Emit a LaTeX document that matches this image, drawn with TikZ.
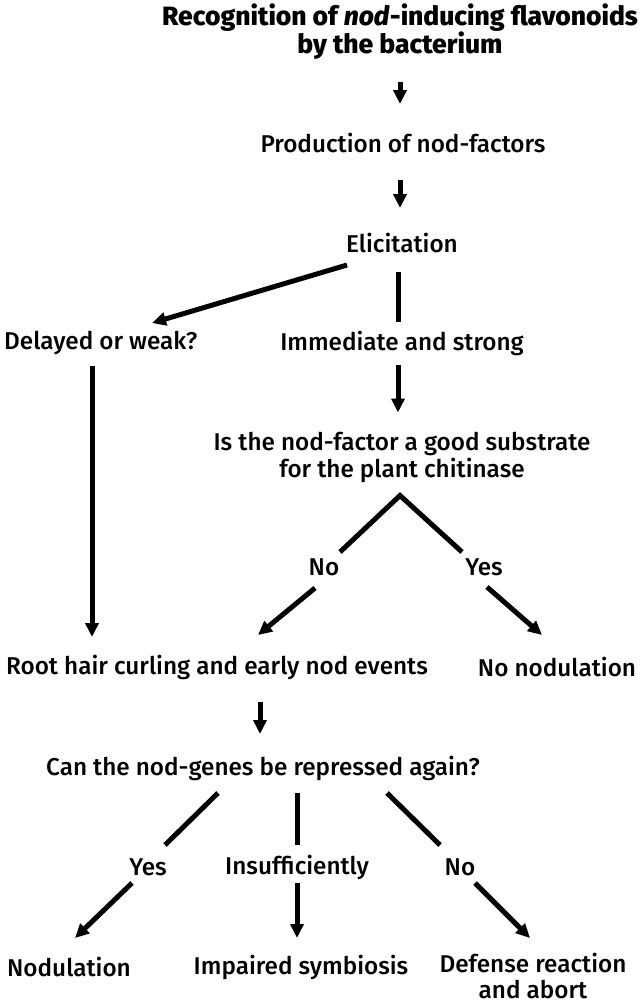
\documentclass[tikz,border=0pt]{standalone}
\usepackage{fontspec}
\setmainfont{Fira Sans}[UprightFont={* Medium}, ItalicFont={* Medium Italic}, BoldFont={* Bold}, BoldItalicFont={* Bold Italic}]
\newfontfamily\heavyfont{Fira Sans}[UprightFont={* ExtraBold}, ItalicFont={* ExtraBold Italic}]
\usetikzlibrary{arrows.meta,calc}
\begin{document}
\begin{tikzpicture}[x=1pt,y=-1pt,
  txt/.style={inner sep=0pt, align=center, font=\fontsize{24.3}{27}\selectfont},
  ln/.style={line width=5pt},
  arr/.style={line width=5pt, -{Triangle[length=14pt,width=13pt]}}]
\useasboundingbox (0,0) rectangle (642,1004);
\node[txt, font=\heavyfont\fontsize{26.5}{27}\selectfont] (title) at (400,31.5) {Recognition of \textit{nod}-inducing flavonoids\\by the bacterium};
\node[txt] (prod) at (403,143) {Production of nod-factors};
\node[txt] (elic) at (402,243) {Elicitation};
\node[txt, anchor=west] (delayed) at (4,343) {Delayed or weak?};
\node[txt] (immediate) at (402,343) {Immediate and strong};
\node[txt] (question) at (402,457.5) {Is the nod-factor a good substrate\\for the plant chitinase};
\node[txt] (no) at (324,567) {No};
\node[txt] (yes) at (484,567) {Yes};
\node[txt] (root) at (217,667) {Root hair curling and early nod events};
\node[txt] (nonod) at (557,667) {No nodulation};
\node[txt] (can) at (263,768) {Can the nod-genes be repressed again?};
\node[txt] (yes2) at (148,867) {Yes};
\node[txt] (insuff) at (297,867) {Insufficiently};
\node[txt] (no2) at (460,867) {No};
\node[txt] (nodulation) at (69,967) {Nodulation};
\node[txt] (impaired) at (301,967) {Impaired symbiosis};
\node[txt, font=\fontsize{24.3}{26}\selectfont] (defense) at (533,976) {Defense reaction\\and abort};

\draw[arr] ($(title)+(0,50)$) -- ($(prod)+(-3,-39)$);
\draw[arr] ($(prod)+(-3,37)$) -- ($(elic)+(-2,-35)$);
\draw[ln] ($(elic)+(-4,29)$) -- ($(immediate)+(-4,-21)$);
\draw[arr] ($(elic)+(-55,22)$) -- ($(delayed.west)+(148,-20)$);
\draw[arr] ($(immediate)+(-4,22)$) -- ($(question)+(-4,-45)$);
\draw[ln, line join=miter] ($(no)+(16,-15)$) -- ($(question)+(-2,38)$) -- ($(yes)+(-22,-15)$);
\draw[arr] ($(no)+(-9,21)$) -- ($(root)+(41,-32)$);
\draw[arr] ($(yes)+(3,20)$) -- ($(nonod)+(-15,-32)$);
\draw[arr] ($(delayed.west)+(88,23)$) -- ($(root)+(-125,-30)$);
\draw[arr] ($(root)+(43,35)$) -- ($(can)+(-3,-34)$);
\draw[ln] ($(can)+(-45,25)$) -- ($(yes2)+(17,-22)$);
\draw[ln] ($(can)+(34,25)$) -- ($(insuff)+(0,-22)$);
\draw[ln] ($(can)+(124,25)$) -- ($(no2)+(-20,-22)$);
\draw[arr] ($(yes2)+(-16,16)$) -- ($(nodulation)+(6,-29)$);
\draw[arr] ($(insuff)+(0,16)$) -- ($(impaired)+(-4,-29)$);
\draw[arr] ($(no2)+(15,16)$) -- ($(defense)+(-3,-38)$);
\end{tikzpicture}
\end{document}
